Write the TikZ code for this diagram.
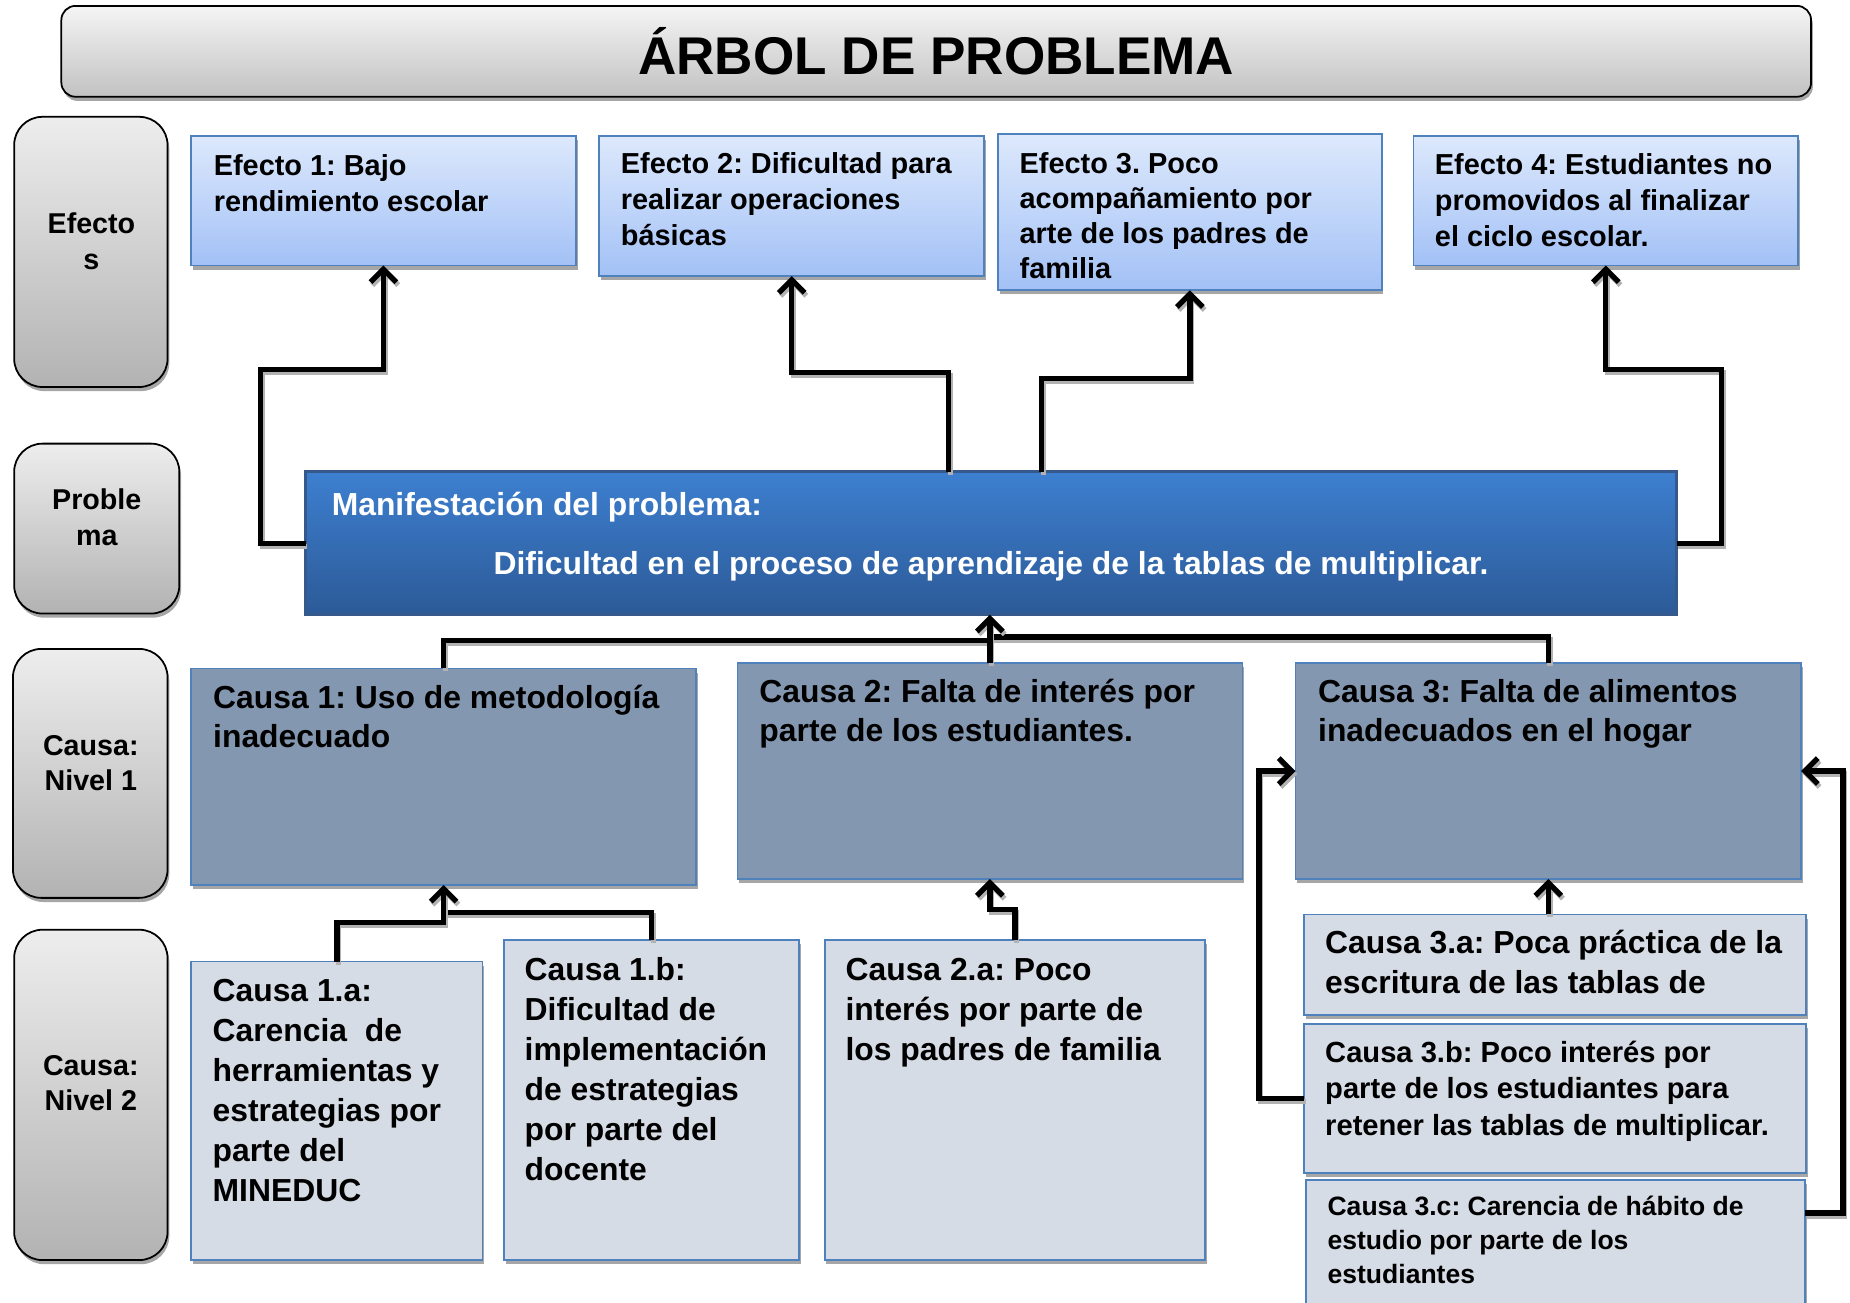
\documentclass[tikz,border=0pt]{standalone}
\usepackage{fontspec}
\setmainfont{Liberation Sans}
\usetikzlibrary{arrows.meta,shadows,calc}
\definecolor{effTop}{HTML}{DDE9FC}
\definecolor{effBot}{HTML}{A3C1F6}
\definecolor{boxLine}{HTML}{4F81BD}
\definecolor{probTop}{HTML}{3D7FD0}
\definecolor{probBot}{HTML}{2C5A97}
\definecolor{probLine}{HTML}{34598A}
\definecolor{causeOne}{HTML}{8497B0}
\definecolor{causeTwo}{HTML}{D6DCE5}
\newcommand\boxnode[6]{\node[#1, anchor=north west, minimum width={#5-#3}, minimum height={#6-#4}] (#2) at (#3,#4) {};}
\newcommand\st{\rule{0pt}{24pt}}
\frenchspacing
\begin{document}
\begin{tikzpicture}[x=1pt,y=-1pt,
  shad/.style={drop shadow={shadow xshift=1.5pt, shadow yshift=-3.5pt, fill=black, opacity=0.35}},
  basebox/.style={rectangle, inner sep=0pt, outer sep=0pt},
  effbox/.style={basebox, shad, draw=boxLine, line width=1.5pt, top color=effTop, bottom color=effBot},
  probbox/.style={basebox, draw=probLine, line width=2.5pt, top color=probTop, bottom color=probBot},
  cone/.style={basebox, shad, draw=boxLine, line width=1.5pt, fill=causeOne},
  ctwo/.style={basebox, shad, draw=boxLine, line width=1.5pt, fill=causeTwo},
  lblbox/.style={basebox, shad, rounded corners=24pt, draw=black, line width=1.5pt, top color=black!7, bottom color=black!30},
  titlebox/.style={basebox, shad, rounded corners=12pt, draw=black, line width=1.5pt, top color=black!4, bottom color=black!24},
  txt/.style={anchor=north west, inner sep=0pt, align=left},
  ctxt/.style={anchor=north, inner sep=0pt, align=center},
  fEff/.style={font=\fontsize{24.5}{30.6}\selectfont\bfseries\frenchspacing},
  fLbl/.style={font=\fontsize{24.3}{30}\selectfont\bfseries},
  fBig/.style={font=\fontsize{27}{33.8}\selectfont\bfseries\frenchspacing},
  fMid/.style={font=\fontsize{24.7}{31}\selectfont\bfseries\frenchspacing},
  fSml/.style={font=\fontsize{22.5}{29}\selectfont\bfseries\frenchspacing},
  conn/.style={line width=4.5pt, draw=black, preaction={draw=black!30, line width=4.5pt, transform canvas={shift={(1.5,2.5)}}}},
  arr/.style={conn, -{Straight Barb[length=11pt,width=22pt,line width=4.5pt]}}
]
\useasboundingbox (0,0) rectangle (1568,1104);
\clip (0,0) rectangle (1568,1104);

% title
\boxnode{titlebox}{title}{52}{5}{1535}{82}
\node[anchor=base, inner sep=0pt, font=\fontsize{45}{50}\selectfont\bfseries] (titlet) at (793.5,63) {ÁRBOL DE PROBLEMA};

% row labels
\boxnode{lblbox}{lef}{12}{99}{142}{328}
\node[ctxt, fLbl] (left) at (77.5,174) {\st Efecto\\s};
\boxnode{lblbox}{lpr}{12}{376}{152}{520}
\node[ctxt, fLbl] (lprt) at (82,408) {\st Proble\\ma};
\boxnode{lblbox}{ln1}{11}{550}{142}{761}
\node[ctxt, fLbl] (ln1t) at (77,616) {\st Causa:\\Nivel 1};
\boxnode{lblbox}{ln2}{12}{788}{142}{1068}
\node[ctxt, fLbl] (ln2t) at (77,887) {\st Causa:\\Nivel 2};

% effects
\boxnode{effbox}{e1}{162}{115}{488}{225}
\node[txt, fEff] (e1t) at (181,124.5) {\st Efecto 1: Bajo\\rendimiento escolar};
\boxnode{effbox}{e2}{508}{115}{834}{234}
\node[txt, fEff] (e2t) at (526,123) {\st Efecto 2: Dificultad para\\realizar operaciones\\básicas};
\boxnode{effbox}{e3}{846}{113.5}{1171}{246}
\begin{scope}
\clip (846,113) rectangle (1171,239);
\node[txt, font=\fontsize{24.5}{29.7}\selectfont\bfseries\frenchspacing] (e3t) at (864,123) {\st Efecto 3. Poco\\acompañamiento por\\arte de los padres de\\familia};
\end{scope}
\boxnode{effbox}{e4}{1198}{115}{1524}{225}
\node[txt, fEff] (e4t) at (1216,123.5) {\st Efecto 4: Estudiantes no\\promovidos al finalizar\\el ciclo escolar.};

% problem
\boxnode{probbox}{prob}{259}{400}{1421}{521}
\node[anchor=base west, inner sep=0pt, fBig, text=white] (probt1) at (281,436.5) {Manifestación del problema:};
\node[anchor=base, inner sep=0pt, fBig, text=white] (probt2) at (840,487) {Dificultad en el proceso de aprendizaje de la tablas de multiplicar.};

% causes level 1
\boxnode{cone}{c1}{162}{566.5}{590}{750}
\node[txt, font=\fontsize{27}{33}\selectfont\bfseries\frenchspacing] (c1t) at (180.5,576) {\st Causa 1: Uso de metodología\\inadecuado};
\boxnode{cone}{c2}{625}{562}{1053}{745}
\node[txt, font=\fontsize{27}{33.5}\selectfont\bfseries\frenchspacing] (c2t) at (643.5,571) {\st Causa 2: Falta de interés por\\parte de los estudiantes.};
\boxnode{cone}{c3}{1098}{562}{1526.5}{745}
\node[txt, font=\fontsize{27}{33.5}\selectfont\bfseries\frenchspacing] (c3t) at (1117,571) {\st Causa 3: Falta de alimentos\\inadecuados en el hogar};

% causes level 2
\boxnode{ctwo}{c1a}{162}{815}{409}{1068}
\node[txt, fBig] (c1at) at (180,825) {\st Causa 1.a:\\Carencia~ de\\herramientas y\\estrategias por\\parte del\\MINEDUC};
\boxnode{ctwo}{c1b}{427}{797}{677.5}{1068}
\node[txt, fBig] (c1bt) at (444.5,807) {\st Causa 1.b:\\Dificultad de\\implementación\\de estrategias\\por parte del\\docente};
\boxnode{ctwo}{c2a}{699}{797}{1021.5}{1068}
\node[txt, fBig] (c2at) at (716.5,807) {\st Causa 2.a: Poco\\interés por parte de\\los padres de familia};
\boxnode{ctwo}{c3a}{1105}{775}{1530.5}{860}
\node[txt, fBig] (c3at) at (1123,784) {\st Causa 3.a: Poca práctica de la\\escritura de las tablas de};
\boxnode{ctwo}{c3b}{1105}{868}{1530.5}{994}
\node[txt, fMid] (c3bt) at (1123,876) {\st Causa 3.b: Poco interés por\\parte de los estudiantes para\\retener las tablas de multiplicar.};
\boxnode{ctwo}{c3c}{1107}{1000}{1530}{1125}
\node[txt, fSml] (c3ct) at (1125,1006) {\st Causa 3.c: Carencia de hábito de\\estudio por parte de los\\estudiantes};

% connectors: problem -> effects
\coordinate (x2) at (804,0);
\coordinate (x3) at (883,0);
\coordinate (ybarL) at (0,543);
\coordinate (ybarR) at (0,540);
\draw[arr] (prob.west) -| (221,313) -| (e1.south);
\draw[arr] (x2 |- prob.north) -- ++(0,-84) -| (e2.south);
\draw[arr] (x3 |- prob.north) -- ++(0,-79) -| (e3.south);
\draw[arr] (prob.east) -| (1459,313) -| (e4.south);

% causes level 1 -> problem
\draw[conn] (c1.north) |- (c2.north |- ybarL);
\draw[conn] (c3.north) |- (c2.north |- ybarR);
\draw[arr] (c2.north) -- (c2.north |- prob.south);

% level 2 -> level 1
\draw[conn] (c1b.north) -- ++(0,-23.5) -- ++(-176,0);
\draw[arr] (c1a.north) -- ++(0,-33) -| (c1.south);
\draw[arr] (c2a.north) -- ++(0,-26) -| (c2.south);
\draw[arr] (c3.south |- c3a.north) -- (c3.south);
\draw[arr] (c3b.west) -- ++(-38,0) |- (c3.west);
\draw[arr] ($(c3c.north east)+(0,28)$) -- ++(32,0) |- (c3.east);
\end{tikzpicture}
\end{document}
